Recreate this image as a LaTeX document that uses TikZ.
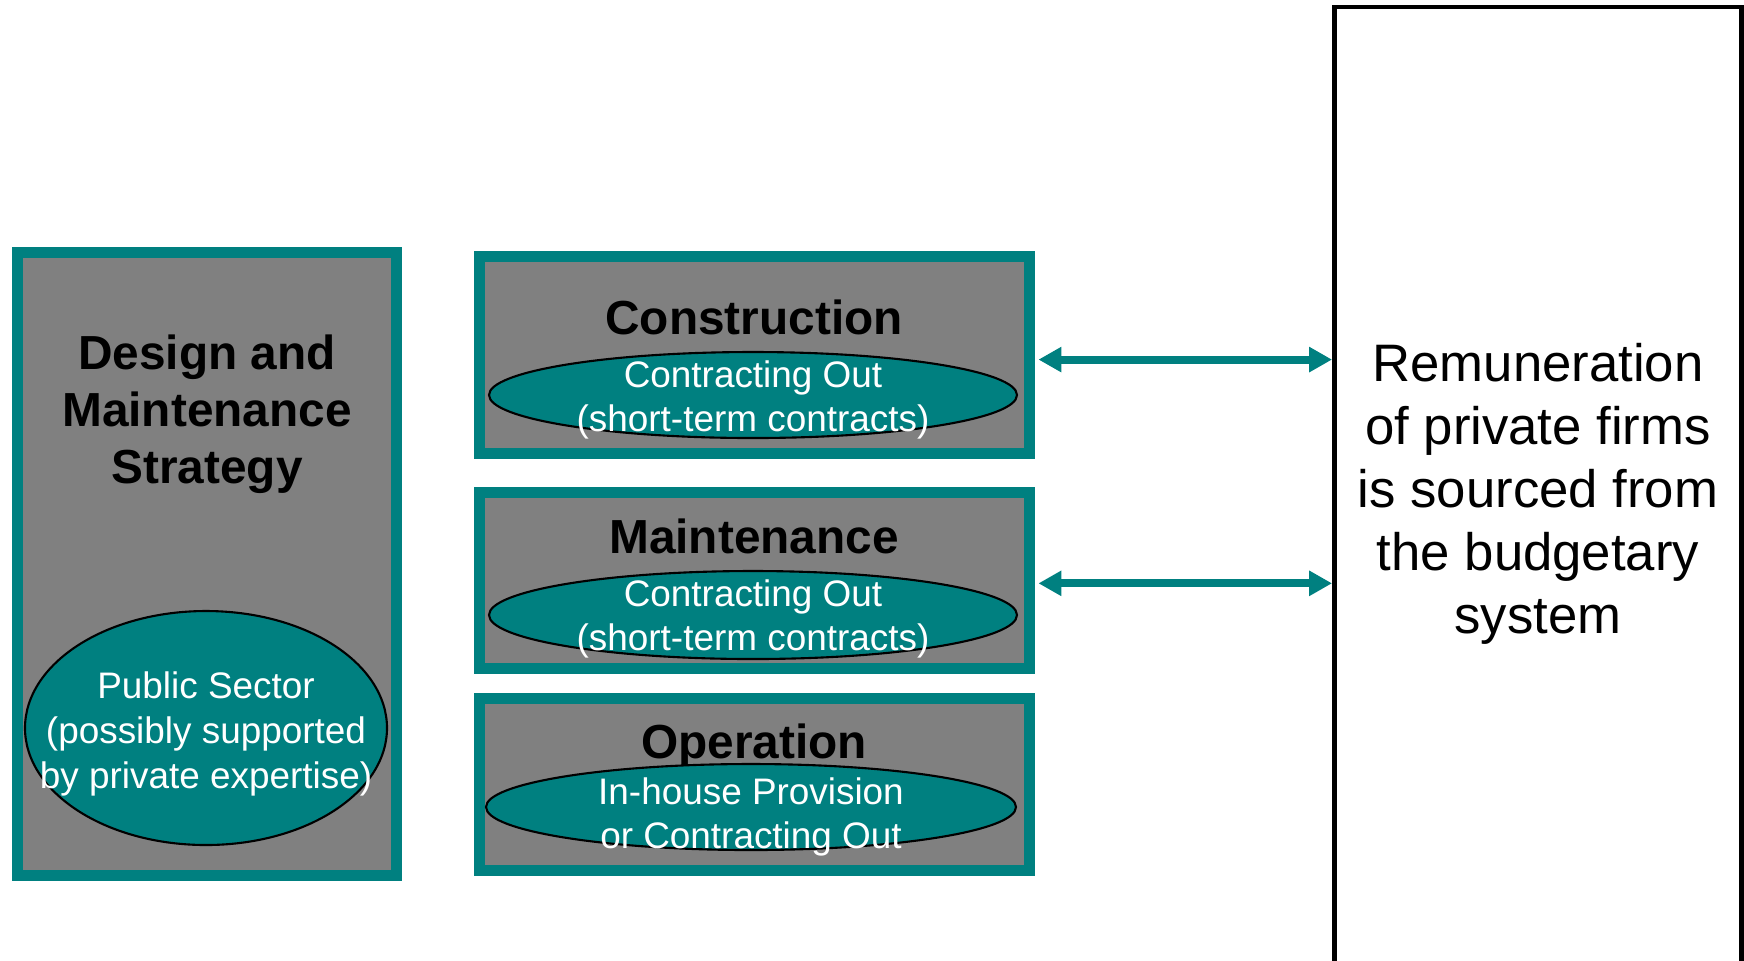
\documentclass[tikz,border=0pt]{standalone}
\usepackage{fontspec}
\setmainfont{Liberation Sans}
\usetikzlibrary{shapes.geometric,arrows.meta}

\definecolor{tealc}{HTML}{008080}
\definecolor{grayc}{HTML}{808080}

\tikzset{
    stagebox/.style={draw=tealc, fill=grayc, line width=3.1pt, inner sep=0pt},
    oval/.style={ellipse, draw=black, fill=tealc, line width=0.6pt, inner sep=0pt},
    ovaltext/.style={text=white, align=center, font=\fontsize{10.5}{12.5}\selectfont},
    stagetitle/.style={align=center, font=\fontsize{13.6}{16.2}\selectfont\bfseries},
    flow/.style={<->, draw=tealc, line width=2.3pt, >={Triangle[length=6.5pt,width=6.8pt]}}
}

\begin{document}
\begin{tikzpicture}
    \useasboundingbox (0,0) rectangle (17.44,-9.6);
    \clip (0,0) rectangle (17.44,-9.6);

    % Strategy column
    \node[stagebox, minimum width=3.79cm, minimum height=6.23cm] (strategy) at (2.07,-5.64) {};
    \node[stagetitle] (strategyTitle) at (2.07,-4.145) {Design and\\Maintenance\\Strategy};
    \node[oval, minimum width=3.62cm, minimum height=2.34cm] (publicOval) at (2.06,-7.28) {};
    \node[ovaltext, font=\fontsize{10.5}{12.8}\selectfont] (publicText) at (2.06,-7.34)
        {Public Sector\\(possibly supported\\by private expertise)};

    % Construction
    \node[stagebox, minimum width=5.5cm, minimum height=1.97cm] (constr) at (7.545,-3.55) {};
    \node[stagetitle] (constrTitle) at (7.54,-3.17) {Construction};
    \node[oval, minimum width=5.28cm, minimum height=0.86cm] (constrOval) at (7.53,-3.95) {};
    \node[ovaltext] (constrText) at (7.53,-4.00) {Contracting Out\\(short-term contracts)};

    % Maintenance
    \node[stagebox, minimum width=5.5cm, minimum height=1.76cm] (maint) at (7.545,-5.805) {};
    \node[stagetitle] (maintTitle) at (7.54,-5.36) {Maintenance};
    \node[oval, minimum width=5.28cm, minimum height=0.88cm] (maintOval) at (7.53,-6.15) {};
    \node[ovaltext] (maintText) at (7.53,-6.19) {Contracting Out\\(short-term contracts)};

    % Operation
    \node[stagebox, minimum width=5.5cm, minimum height=1.72cm] (oper) at (7.545,-7.845) {};
    \node[stagetitle] (operTitle) at (7.54,-7.46) {Operation};
    \node[oval, minimum width=5.30cm, minimum height=0.86cm] (operOval) at (7.51,-8.07) {};
    \node[ovaltext] (operText) at (7.51,-8.17) {In-house Provision\\ or Contracting Out};

    % Budget box
    \node[draw=black, line width=1.4pt, minimum width=4.07cm, minimum height=9.93cm] (remun) at (15.38,-5.035) {};
    \node[align=center, font=\fontsize{15}{17.9}\selectfont] (remunText) at (15.38,-4.94)
        {Remuneration\\of private firms\\is sourced from\\the budgetary\\system};

    % Payment links
    \draw[flow, shorten <=1pt] ([yshift=-1.3pt]constr.east) -- ([yshift=-1.3pt]constr.east -| remun.west);
    \draw[flow, shorten <=1pt] ([yshift=-0.8pt]maint.east) -- ([yshift=-0.8pt]maint.east -| remun.west);
\end{tikzpicture}
\end{document}
